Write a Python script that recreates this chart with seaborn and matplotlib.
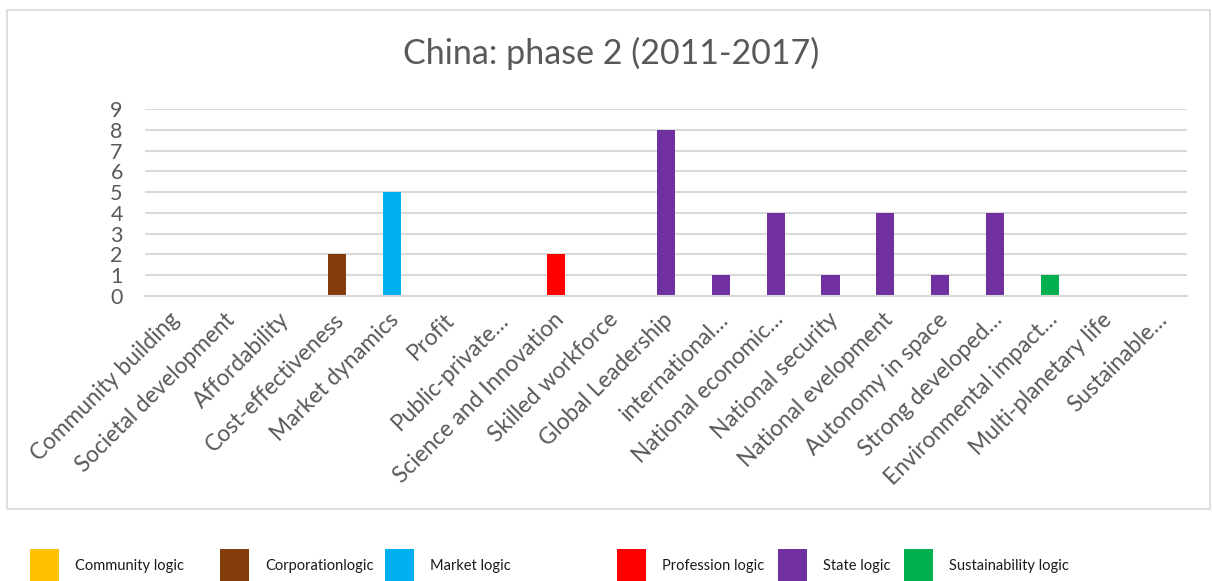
import matplotlib
matplotlib.use("Agg")
import matplotlib.pyplot as plt
import matplotlib.transforms as mtransforms
from matplotlib.patches import Patch, Rectangle
import pandas as pd
import seaborn as sns

# Chart data
categories = [
    "Community building", "Societal development", "Affordability",
    "Cost-effectiveness", "Market dynamics", "Profit", "Public-private…",
    "Science and Innovation", "Skilled workforce", "Global Leadership",
    "international…", "National economic…", "National security",
    "National evelopment", "Autonomy in space", "Strong developed…",
    "Environmental impact…", "Multi-planetary life", "Sustainable…",
]
counts = [0, 0, 0, 2, 5, 0, 0, 2, 0, 8, 1, 4, 1, 4, 1, 4, 1, 0, 0]
category_logic = [
    "Community logic", "Community logic", "Corporationlogic",
    "Corporationlogic", "Market logic", "Market logic", "Market logic",
    "Profession logic", "Profession logic", "State logic", "State logic",
    "State logic", "State logic", "State logic", "State logic",
    "State logic", "Sustainability logic", "Sustainability logic",
    "Sustainability logic",
]
logic_names = ["Community logic", "Corporationlogic", "Market logic",
               "Profession logic", "State logic", "Sustainability logic"]
logic_colors = ["#FFC000", "#843C0C", "#00B0F0", "#FF0000", "#7030A0", "#00B050"]
title = "China: phase 2 (2011-2017)"

sns.set_theme(style="white")
plt.rcParams["font.family"] = ["Lato", "DejaVu Sans"]

W, H = 1212, 581
fig = plt.figure(figsize=(W / 100, H / 100), dpi=100)
fig.patch.set_facecolor("white")

# Outer chart frame
fig.patches.append(Rectangle((7 / W, 1 - 509 / H), (1210 - 7) / W, (509 - 10) / H,
                             transform=fig.transFigure, fill=False,
                             edgecolor="#D9D9D9", linewidth=1.2))

ax = fig.add_axes([145 / W, 1 - 296 / H, (1187 - 145) / W, (296 - 109) / H])

df = pd.DataFrame({"category": categories, "count": counts, "logic": category_logic})
palette = dict(zip(logic_names, logic_colors))
sns.barplot(data=df, x="category", y="count", hue="logic", palette=palette,
            hue_order=logic_names, dodge=False, width=0.33, saturation=1,
            linewidth=0, legend=False, ax=ax)

ax.set_xlim(-0.5, len(categories) - 0.5)
ax.set_ylim(0, 9)
ax.set_yticks(range(10))
ax.yaxis.grid(True, color="#D9D9D9", linewidth=1.5)
ax.xaxis.grid(False)
ax.set_axisbelow(True)
for side in ["left", "right", "top"]:
    ax.spines[side].set_visible(False)
ax.spines["bottom"].set_color("#D9D9D9")
ax.spines["bottom"].set_linewidth(1.5)
ax.set_xlabel("")
ax.set_ylabel("")

ax.tick_params(axis="y", length=0, pad=16, labelsize=15.5, labelcolor="#595959")
ax.tick_params(axis="x", length=0, pad=6, labelsize=16.3, labelcolor="#595959")
ax.set_xticks(range(len(categories)))
ax.set_xticklabels(categories, rotation=45, ha="right", va="center",
                   rotation_mode="anchor")
shift = mtransforms.ScaledTranslation(4 / 100, -12 / 100, fig.dpi_scale_trans)
for lbl in ax.get_xticklabels():
    lbl.set_transform(lbl.get_transform() + shift)

fig.text(611.5 / W, 1 - 53 / H, title, ha="center", va="center",
         fontsize=24.5, color="#595959")

# Legend entries placed along the bottom edge
legend_x = [30, 220, 385, 617, 778, 904]
for name, color, x in zip(logic_names, logic_colors, legend_x):
    fig.legend(handles=[Patch(facecolor=color, edgecolor="none", label=name)],
               loc="center left", bbox_to_anchor=(x / W, 1 - 566 / H),
               frameon=False, borderpad=0, borderaxespad=0,
               handlelength=2.0, handleheight=3.3, handletextpad=1.1,
               fontsize=10.5, labelcolor="#1a1a1a")

fig.savefig("out.png", dpi=100)
